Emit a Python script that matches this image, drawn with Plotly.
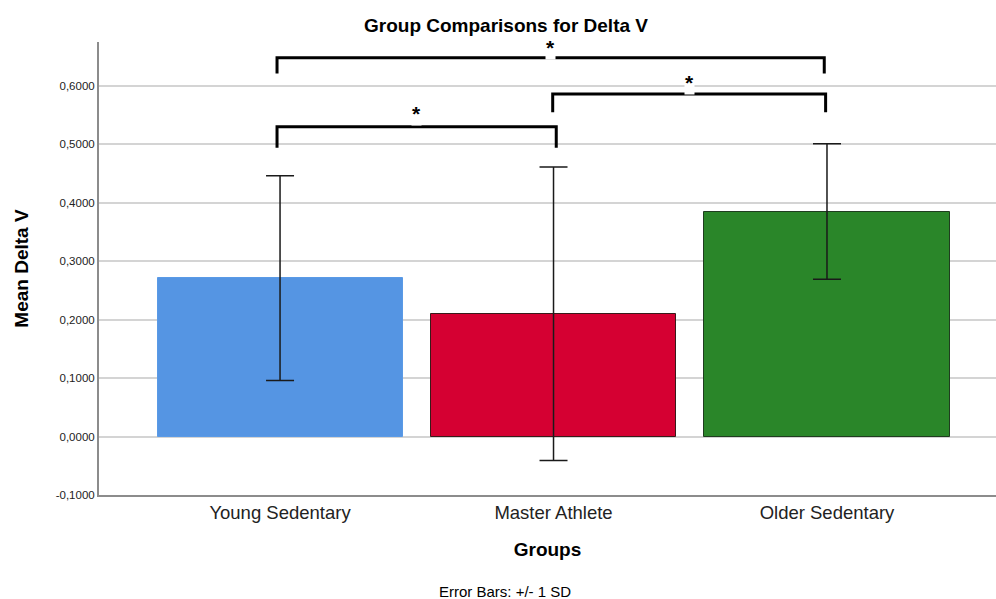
import plotly.graph_objects as go

# Group means and standard deviations of Delta V
groups = ["Young Sedentary", "Master Athlete", "Older Sedentary"]
means = [0.271, 0.210, 0.385]
sds = [0.175, 0.251, 0.116]
colors = ["#5595E3", "#D50032", "#2A8629"]
outlines = ["#5A9AE6", "#3a1a1a", "#1f3d1f"]

y_ticks = [-0.1, 0.0, 0.1, 0.2, 0.3, 0.4, 0.5, 0.6]
y_tick_text = ["-0,1000", "0,0000", "0,1000", "0,2000", "0,3000", "0,4000", "0,5000", "0,6000"]

# Significance brackets: (left group, right group, bar height, leg bottom, star height)
brackets = [
    (0, 2, 0.648, 0.621, 0.665),
    (1, 2, 0.586, 0.555, 0.605),
    (0, 1, 0.530, 0.494, 0.552),
]
bracket_offsets = [(-0.011, -0.01), (-0.003, -0.005), (-0.011, 0.01)]

FONT = "Liberation Sans, Arial, sans-serif"
x_pos = list(range(len(groups)))

fig = go.Figure()
fig.add_trace(go.Bar(
    x=x_pos, y=means, width=0.896,
    marker=dict(color=colors, line=dict(color=outlines, width=1)),
    error_y=dict(type="data", array=sds, visible=True, color="#1a1a1a",
                 thickness=1.5, width=14),
    showlegend=False, hoverinfo="skip",
))

for (a, b, top, leg, star), (da, db) in zip(brackets, bracket_offsets):
    xa, xb = a + da, b + db
    fig.add_shape(type="path",
                  path=f"M {xa} {leg} L {xa} {top} L {xb} {top} L {xb} {leg}",
                  xref="x", yref="y", line=dict(color="black", width=3))
    fig.add_annotation(x=(xa + xb) / 2, y=star, xref="x", yref="y", text="<b>*</b>",
                       showarrow=False, font=dict(size=21, color="black", family=FONT),
                       bgcolor="white", borderpad=0)

# Title and footnote, centred slightly left of the plot area's middle
fig.add_annotation(x=0.4537, y=1, xref="paper", yref="paper", yshift=17,
                   text="<b>Group Comparisons for Delta V</b>", showarrow=False,
                   font=dict(size=19, color="black", family=FONT), yanchor="middle")
fig.add_annotation(x=0.4526, y=0, xref="paper", yref="paper", yshift=-96,
                   text="Error Bars: +/- 1 SD", showarrow=False,
                   font=dict(size=15, color="black", family=FONT), yanchor="middle")

fig.update_layout(
    width=996, height=599,
    margin=dict(l=99, r=0, t=42, b=104),
    plot_bgcolor="white", paper_bgcolor="white",
    font=dict(family=FONT, color="black"),
    bargap=0,
    xaxis=dict(range=[-0.662, 2.618], tickvals=x_pos, ticktext=groups,
               showgrid=False, zeroline=False, showline=True, linecolor="#8c8c8c",
               linewidth=2, ticks="", tickfont=dict(size=18.5, color="#222"),
               title=dict(text="<b>Groups</b>", font=dict(size=19), standoff=20)),
    yaxis=dict(range=[-0.1, 0.675], tickvals=y_ticks, ticktext=y_tick_text,
               showgrid=True, gridcolor="#d4d4d4", gridwidth=1.5, zeroline=False,
               showline=True, linecolor="#8c8c8c", linewidth=2, ticks="",
               tickfont=dict(size=11.5, color="#222"),
               title=dict(text="<b>Mean Delta V</b>", font=dict(size=19), standoff=22)),
)

fig.write_html("out.html")
